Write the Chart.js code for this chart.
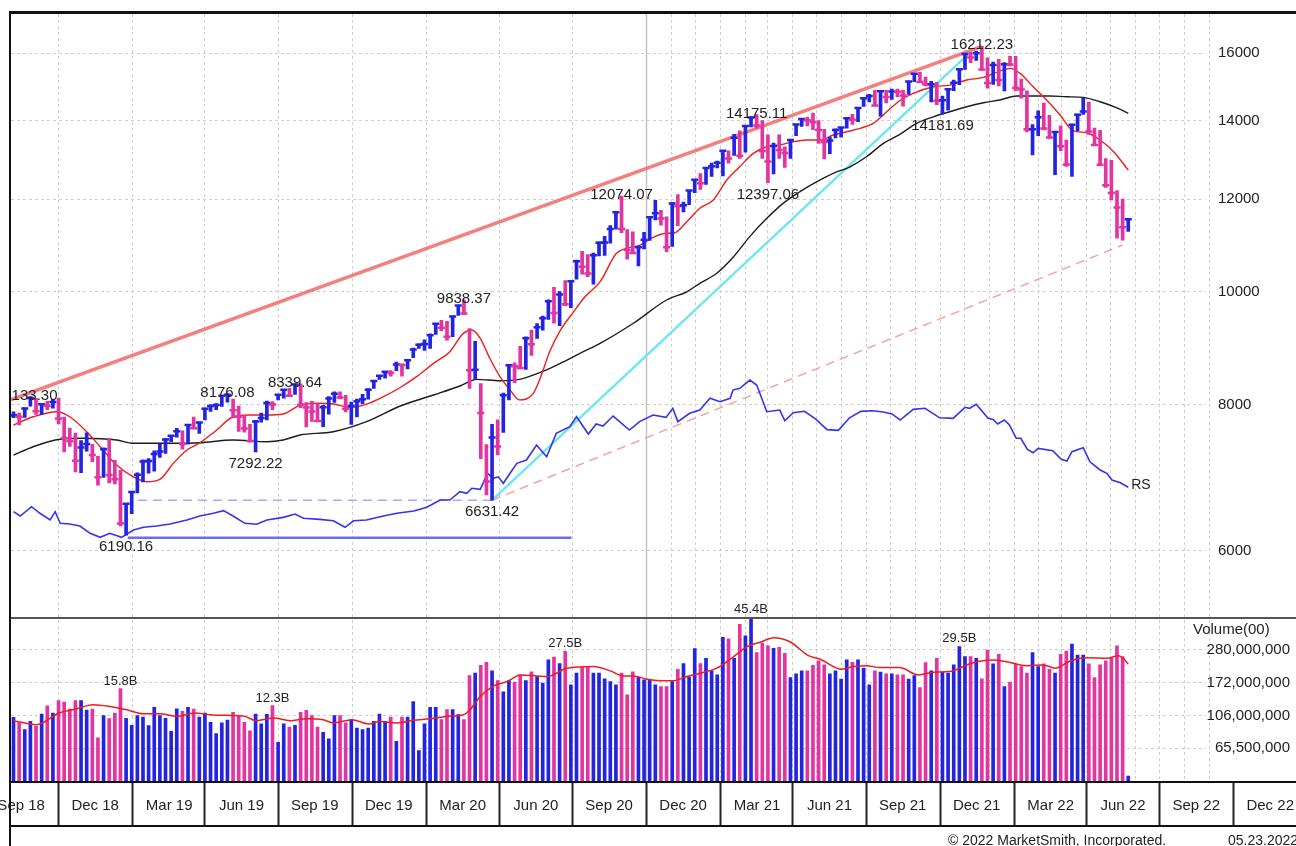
<!DOCTYPE html>
<html>
<head>
<meta charset="utf-8">
<title>Nasdaq weekly</title>
<script src="https://cdn.jsdelivr.net/npm/chart.js@4.4.1/dist/chart.umd.min.js"></script>
<style>
  html, body { margin: 0; padding: 0; background: #fff; }
  #frame { position: relative; width: 1296px; height: 846px; overflow: hidden; }
  #frame canvas { position: absolute; left: 0; top: 0; }
  .rule { position: absolute; background: #111; }
  .txt { position: absolute; font: 15px "Liberation Sans", Arial, sans-serif; color: #222; white-space: nowrap; }
  .small { font-size: 14px; }
</style>
</head>
<body>
<div id="frame">
  <canvas id="chart" width="1296" height="846"></canvas>
  <div class="rule" style="left:9px; top:11px; width:2px; height:835px;"></div>
  <div class="rule" style="left:9px; top:11px; width:1287px; height:3px;"></div>
  <div class="rule" style="left:11px; top:617px; width:1285px; height:2px; background:#555;"></div>
  <div class="rule" style="left:11px; top:781px; width:1285px; height:2px;"></div>
  <div class="rule" style="left:11px; top:825px; width:1285px; height:2px;"></div>
  <div class="txt" style="left:1193px; top:620px;">Volume(00)</div>
  <div class="txt small" style="left:948px; top:832px;">© 2022 MarketSmith, Incorporated.</div>
  <div class="txt small" style="left:1228px; top:832px;">05.23.2022</div>
</div>
<script>
// weekly bars, first bar = week of 2018-08-06
const firstWeek = '2018-08-06';
const weekOf = d => (Date.parse(d) - Date.parse(firstWeek)) / 6048e5;

const highs = [
  7891.8, 7873, 7954, 8133.30, 8104, 8027, 8057, 8087, 8107, 7810,
  7643, 7569, 7459, 7572, 7404, 7231, 7351, 7486, 7174, 7035,
  6586, 6745, 7000, 7181, 7198, 7310, 7407, 7488, 7534, 7640,
  7604, 7690, 7812, 7733, 7951, 8003, 8020, 8146, 8176.08, 8094,
  7982, 7843, 7700, 7763, 7872, 8063, 8054, 8170, 8246, 8266,
  8339.64, 8340, 8039, 8057, 8020, 7993, 8131, 8210, 8208, 8151,
  8046, 8092, 8170, 8262, 8390, 8482, 8541, 8560, 8705, 8676,
  8746, 8950, 9022, 9093, 9204, 9390, 9452, 9431, 9535, 9734,
  9838.37, 9300, 9070, 8345, 7400, 7700, 7770, 8190, 8660, 8690,
  8980, 9150, 9270, 9390, 9530, 9840, 10086, 10000, 10221, 10210,
  10640, 10825, 10760, 10787, 11030, 11150, 11390, 11712, 12074.07, 11300,
  11250, 10940, 11240, 11600, 11970, 11740, 11590, 11920, 12110, 11930,
  12210, 12470, 12620, 12770, 12880, 12930, 13210, 13200, 13630, 13730,
  13880, 14110, 14175.11, 14010, 13620, 13400, 13620, 13300, 13500, 13910,
  14070, 14100, 14212, 14010, 13770, 13560, 13780, 13820, 14100, 14180,
  14370, 14640, 14750, 14870, 14850, 14870, 14900, 14900, 14870, 15130,
  15370, 15400, 15260, 15130, 15100, 14700, 14900, 15170, 15510, 15980,
  16020, 16060, 16212.23, 15850, 15720, 15800, 15700, 15900, 15900, 15200,
  14850, 13900, 14280, 14500, 14150, 13700, 13860, 13480, 13900, 14190,
  14650, 14530, 13800, 13740, 13000, 12950, 12200, 12000, 11540
];
const lows = [
  7803, 7691.9, 7807, 7979, 7852, 7850, 7927, 7948, 7705, 7292,
  7373, 7010, 7002, 7302, 7156, 6830, 6937, 6862, 6849, 6304,
  6190.16, 6457, 6726, 6876, 6995, 7022, 7215, 7272, 7442, 7508,
  7333, 7407, 7636, 7562, 7768, 7899, 7926, 7976, 8045, 7800,
  7595, 7582, 7435, 7292.22, 7734, 7767, 7925, 8079, 8106, 8142,
  8168, 7959, 7662, 7744, 7747, 7666, 7856, 8038, 8097, 7890,
  7700, 7815, 8021, 8092, 8265, 8413, 8432, 8466, 8558, 8467,
  8590, 8781, 8941, 8907, 8943, 9190, 9260, 9088, 9150, 9543,
  9562, 8264, 8407, 7198, 6700, 6631.42, 7250, 7580, 8080, 8360,
  8590, 8580, 8820, 9120, 9270, 9470, 9400, 9350, 9730, 9690,
  10250, 10350, 10300, 10150, 10730, 10740, 11000, 11310, 11230, 10660,
  10780, 10520, 10880, 11060, 11520, 11400, 10820, 10930, 11390, 11700,
  11870, 12150, 12230, 12350, 12550, 12760, 12560, 12880, 13080, 13000,
  13160, 13830, 13800, 13000, 12397.06, 12610, 13000, 12770, 13000, 13600,
  13850, 13860, 13760, 13390, 12990, 13120, 13540, 13560, 13800, 13900,
  13980, 14400, 14530, 14420, 14130, 14500, 14600, 14680, 14410, 14750,
  15120, 15100, 15000, 14530, 14450, 14181.69, 14300, 14860, 15030, 15490,
  15700, 15770, 15460, 14930, 15040, 15000, 14850, 15600, 14860, 14640,
  13700, 13090, 13600, 13750, 13530, 12590, 13200, 12800, 12550, 13730,
  14180, 13630, 13330, 12830, 12280, 11980, 11110, 11070, 11260
];
const closes = [
  7839.11, 7816.33, 7945.98, 8109.54, 7902.54, 8010.04, 7986.96, 8046.35, 7788.45, 7496.89,
  7449.03, 7167.21, 7356.99, 7406.90, 7247.87, 6938.98, 7330.54, 6969.25, 6910.67, 6332.99,
  6584.52, 6738.86, 6971.48, 7157.23, 7164.86, 7263.87, 7298.20, 7472.41, 7527.54, 7595.35,
  7408.14, 7688.53, 7642.67, 7729.32, 7938.69, 7984.16, 7998.06, 8146.40, 8164.00, 7916.94,
  7816.28, 7637.01, 7453.15, 7742.10, 7796.66, 8031.71, 8006.24, 8161.79, 8244.14, 8146.49,
  8330.21, 8004.07, 7959.14, 7895.99, 7751.77, 7962.88, 8103.07, 8176.71, 8117.67, 7939.63,
  7982.47, 8057.04, 8089.54, 8243.12, 8386.40, 8475.31, 8540.83, 8519.88, 8665.47, 8656.53,
  8734.88, 8924.96, 9006.62, 9020.77, 9178.86, 9388.94, 9314.91, 9150.94, 9520.51, 9731.18,
  9576.59, 8567.37, 8575.62, 7874.88, 6879.52, 7502.38, 7373.08, 8153.58, 8650.14, 8634.52,
  8604.95, 9121.32, 9014.56, 9324.59, 9489.87, 9814.08, 9588.81, 9946.12, 9757.22, 10207.63,
  10617.44, 10503.19, 10363.18, 10745.27, 11010.98, 11019.30, 11311.80, 11695.63, 11313.13, 10853.55,
  10793.28, 10913.56, 11075.02, 11579.94, 11671.56, 11548.28, 10911.59, 11895.23, 11829.29, 11854.97,
  12205.85, 12464.23, 12377.87, 12755.64, 12804.73, 12888.28, 13201.98, 12998.50, 13543.06, 13070.70,
  13856.30, 14095.47, 13874.46, 13192.35, 12920.15, 13319.86, 13215.24, 13138.73, 13480.11, 13900.19,
  14052.34, 14016.81, 13962.68, 13752.24, 13429.98, 13470.99, 13748.74, 13814.49, 14069.42, 14030.38,
  14360.39, 14639.33, 14701.92, 14427.24, 14836.99, 14672.68, 14835.76, 14822.90, 14714.66, 15129.50,
  15363.52, 15115.49, 15043.97, 15047.70, 14566.70, 14579.54, 14897.34, 15090.20, 15498.39, 15971.59,
  15860.96, 15993.71, 15491.66, 15085.47, 15630.60, 15169.68, 15653.37, 15644.97, 14935.90, 14893.75,
  13768.92, 13770.57, 14098.01, 13791.15, 13548.07, 13694.62, 13313.44, 12843.81, 13893.84, 14169.30,
  14261.50, 13711.00, 13351.08, 12839.29, 12334.64, 12144.66, 11805.00, 11354.62, 11535.27
];
// weekly volume, hundreds of shares, in millions
const volumes = [
  103.2, 95.0, 86.0, 97.2, 90.3, 108.5, 122.6, 110.1, 132.5, 129.5,
  116.8, 132.5, 132.5, 115.1, 116.8, 76.2, 105.8, 101.2, 110.1, 158,
  101.6, 91.7, 105.8, 103.8, 91.3, 119.6, 105.8, 101.6, 83.9, 117.3,
  112.7, 119.6, 116.8, 103.8, 110.1, 95.8, 81.1, 95.0, 99.3, 111.1,
  106.3, 95.8, 84.4, 108.5, 93.6, 107.8, 123, 71.3, 93.6, 89.5,
  91.7, 111.1, 114.4, 105.8, 89.5, 82.7, 75.0, 105.8, 105.8, 95.0,
  99.7, 88.2, 86.0, 88.2, 97.2, 108.5, 97.2, 103.8, 72.4, 103.8,
  103.8, 130.6, 63.1, 93.6, 119.6, 119.6, 99.7, 115.6, 115.6, 107.4,
  99.7, 191.7, 198.6, 223.4, 233.5, 205.4, 178.1, 150.7, 178.1, 173.9,
  193.6, 178.1, 202.4, 188.9, 171.3, 241.6, 252.5, 228.8, 275, 167.1,
  198.6, 215.7, 215.7, 198.6, 198.6, 182.6, 175.4, 167.1, 198.6, 144.2,
  202.4, 187.2, 179.9, 179.9, 167.1, 163.0, 163.0, 175.4, 210.6, 228.8,
  187.2, 285.4, 228.8, 247.7, 205.4, 193.6, 337.7, 330.8, 247.7, 409.1,
  345.7, 454, 269.1, 309.1, 298.3, 287.1, 291.4, 266.7, 186.1, 196.5,
  205.4, 205.4, 223.4, 238.1, 224.4, 196.5, 205.4, 181.7, 241.6, 233.5,
  241.6, 213.8, 167.1, 205.4, 201.5, 196.5, 196.5, 193.6, 193.6, 181.7,
  191.7, 160.6, 232.2, 205.4, 247.7, 201.5, 198.6, 224.4, 295, 253.7,
  253.7, 247.7, 182.6, 280, 227.8, 262.8, 163.0, 173.9, 226.7, 218.9,
  198.6, 269.1, 218.9, 227.8, 210.6, 198.6, 262.8, 275.9, 305.9, 260.1,
  260.1, 227.8, 186.1, 224.4, 238.1, 247.7, 298.3, 253.7, 43.2
];

// [week, value]
const ma10 = [
  [0, 7690], [3.5, 7816], [7.7, 7894], [10, 7816], [13, 7589], [15.4, 7368], [18.3, 7107], [21.3, 6944],
  [23.7, 6877], [26, 6909], [28.4, 7131], [30.8, 7320], [33.1, 7426], [36.1, 7614], [39, 7816], [42, 7843],
  [45, 7843], [47.9, 7858], [50.9, 7998], [53.9, 8026], [56.8, 8014], [59.8, 7963], [62.7, 8014], [65.7, 8131],
  [68.7, 8280], [71.6, 8458], [74.6, 8683], [77.5, 8885], [79.9, 9211], [81.4, 9272], [82.9, 9122], [84.6, 8770],
  [86.4, 8458], [88.2, 8238], [89.9, 8080], [92.3, 8180], [93.5, 8420], [95.3, 8900], [97.1, 9260], [99.4, 9600],
  [101.5, 9900], [104.2, 10200], [107.1, 10784], [108.9, 10891], [111.3, 10962], [113.6, 11129], [116, 11218],
  [117.2, 11218], [119.6, 11477], [121.9, 11784], [124.3, 11978], [126.7, 12459], [129, 12789], [131.4, 13131],
  [133.8, 13303], [136.1, 13349], [138.5, 13435], [140.9, 13480], [143.3, 13480], [145.6, 13614], [148, 13703],
  [150.4, 13795], [152.7, 13931], [155.1, 14253], [157.5, 14580], [159.8, 14779], [163.4, 14973], [166.3, 15022],
  [169.3, 15171], [172.3, 15251], [175.2, 15442], [177, 15525], [178.8, 15373], [181.1, 14973], [183.5, 14586],
  [185.9, 14160], [188.2, 13730], [190.6, 13675], [193, 13480], [195.4, 13173], [198, 12707]
];
const ma40 = [
  [0, 7248], [3.5, 7368], [8.3, 7477], [12.4, 7491], [18.3, 7466], [21.3, 7418], [28.4, 7418], [33.1, 7426],
  [39, 7466], [45, 7441], [47.9, 7466], [50.9, 7540], [56.8, 7589], [62.7, 7741], [68.7, 7983], [74.6, 8158],
  [79.3, 8304], [82.3, 8414], [86.4, 8391], [89.9, 8414], [92.3, 8485], [95.3, 8598], [98.3, 8740], [101.2, 8885],
  [104.2, 9032], [110.1, 9396], [116, 9837], [119.6, 9998], [121.9, 10165], [124.9, 10368], [127.9, 10712],
  [130.8, 11150], [133.8, 11554], [136.7, 11900], [139.7, 12176], [142.7, 12418], [145.6, 12624], [148.6, 12789],
  [151.5, 13043], [154.5, 13392], [157.5, 13640], [160.4, 13931], [163.4, 14112], [166.3, 14253], [169.3, 14394],
  [172.3, 14507], [175.2, 14586], [178.2, 14701], [181.1, 14701], [184.1, 14701], [187.1, 14680], [190, 14663],
  [193, 14536], [196.2, 14349], [198, 14208]
];
const rsLine = [
  [0, 6483], [1.2, 6428], [3.2, 6547], [4.7, 6463], [6.5, 6378], [7.4, 6483], [8.3, 6336], [10, 6328],
  [11.8, 6303], [13.6, 6213], [15.4, 6164], [17.1, 6213], [19.2, 6164], [21.3, 6253], [23.1, 6287], [25.4, 6303],
  [27.8, 6328], [30.8, 6378], [33.1, 6428], [35.5, 6463], [37.3, 6496], [39, 6428], [41.1, 6336], [43.2, 6324],
  [45, 6378], [47.9, 6411], [50, 6453], [51.5, 6399], [54.4, 6386], [56.8, 6368], [58.9, 6287], [60.4, 6368],
  [62.7, 6378], [65.7, 6428], [68.1, 6463], [71.1, 6491], [73.4, 6539], [75.8, 6634], [77.5, 6634], [79.3, 6743],
  [80.5, 6722], [81.4, 6789], [82.9, 6775], [84.2, 6992], [85.2, 6923], [86.1, 6944], [87, 6856], [88.2, 6992],
  [89.4, 7131], [91.1, 7178], [92.9, 7392], [94.7, 7224], [96.4, 7565], [98.8, 7664], [100, 7816], [102.1, 7554],
  [103.5, 7706], [104.7, 7675], [106.5, 7827], [109.4, 7614], [111.2, 7741], [113.6, 7843], [115.9, 7806],
  [117.1, 7947], [118, 7741], [120.1, 7869], [121.9, 7920], [123.7, 8106], [125.5, 8051], [127.3, 8106],
  [127.8, 8238], [129, 8266], [130.8, 8402], [132, 8320], [133.8, 7894], [136.1, 7920], [137, 7755], [138.5, 7878],
  [140.5, 7900], [142.5, 7780], [144.5, 7620], [146.5, 7610], [148.5, 7800], [150.5, 7900], [152.5, 7910],
  [154.5, 7890], [156, 7860], [157.5, 7766], [159.8, 7931], [161.9, 7947], [164.5, 7800], [166.9, 7791],
  [169, 7963], [169.8, 7947], [171, 8010], [173.1, 7791], [174, 7775], [174.8, 7706], [176, 7766], [176.9, 7690],
  [178.1, 7491], [178.9, 7491], [180.1, 7330], [181.1, 7281], [182, 7344], [184.6, 7310], [186.1, 7187],
  [187.1, 7163], [188, 7296], [190, 7353], [191.2, 7153], [193, 7038], [194.2, 6992], [195.1, 6901],
  [196.6, 6864], [198, 6802]
];
const volMa = [
  [0, 98.3], [4.1, 92.6], [8.1, 110.1], [11.1, 116.8], [14.1, 124.4], [17.1, 121.3], [20.1, 115.6], [23.1, 108.9],
  [26, 108.9], [29, 104.7], [32.1, 110.1], [35, 107.4], [38, 106.3], [41.1, 104.7], [43.1, 98.3], [46.2, 102.3],
  [49.1, 98.3], [52.1, 101.2], [55, 99.7], [56.8, 95.0], [60.1, 99.7], [63.1, 93.6], [65.1, 97.2], [68.1, 95.0],
  [71, 98.7], [74, 101.2], [76.9, 104.7], [79.9, 107.4], [81.1, 115.6], [82.9, 140.6], [85.3, 164.6], [87.7, 175.4],
  [90, 193.6], [93, 190.8], [94.8, 188.9], [98.3, 213.8], [103, 218.9], [106, 205.4], [108.3, 190.8], [110.1, 190.8],
  [112.5, 181.7], [115.5, 177.2], [117.2, 177.2], [119.6, 188.9], [122, 198.6], [124.9, 213.8], [127.3, 244.1],
  [130.3, 294.0], [132.6, 313.7], [135, 335.7], [137.9, 316.5], [141.2, 257.4], [143.2, 245.2], [147.1, 210.6],
  [149.2, 218.9], [151.5, 222.1], [153.9, 215.7], [157.4, 215.7], [160.7, 193.6], [163.4, 201.5], [166.3, 203.3],
  [169.3, 224.4], [171.1, 235.6], [174, 241.6], [176.4, 235.6], [180, 222.1], [182.9, 224.4], [185, 213.8],
  [187.7, 238.1], [190.6, 249.9], [194.2, 247.7], [196.3, 257.4], [197.1, 247.7], [198, 226.7]
];

// trend lines drawn on the chart, [week, price]
const channelTop = [[-0.6, 8078], [172, 16212.23]];
const riseLine = [[85, 6631.42], [169.5, 15950]];
const supportLine = [[85, 6631.42], [197, 10962]];
const lowBase = [[20.3, 6160], [99.1, 6160]];
const crashBase = [[22.1, 6631.42], [85, 6631.42]];

const priceTicks = [6000, 8000, 10000, 12000, 14000, 16000];
const volumeTicks = [65.5, 106, 172, 280];
const volumeTickLabels = ['65,500,000', '106,000,000', '172,000,000', '280,000,000'];
const quarterStarts = ['2018-07-01', '2018-10-01', '2019-01-01', '2019-04-01', '2019-07-01', '2019-10-01',
  '2020-01-01', '2020-04-01', '2020-07-01', '2020-10-01', '2021-01-01', '2021-04-01', '2021-07-01',
  '2021-10-01', '2022-01-01', '2022-04-01', '2022-07-01', '2022-10-01'];
const quarterLabels = ['Sep 18', 'Dec 18', 'Mar 19', 'Jun 19', 'Sep 19', 'Dec 19', 'Mar 20', 'Jun 20', 'Sep 20',
  'Dec 20', 'Mar 21', 'Jun 21', 'Sep 21', 'Dec 21', 'Mar 22', 'Jun 22', 'Sep 22', 'Dec 22'];
const monthLines = ['2020-11-01', '2020-12-01', '2021-02-01', '2021-03-01', '2021-05-01', '2021-06-01',
  '2021-08-01', '2021-09-01', '2021-11-01', '2021-12-01', '2022-02-01', '2022-03-01', '2022-05-01',
  '2022-06-01', '2022-08-01', '2022-09-01'];
const solidLineDate = '2020-10-01';

const peakWeeks = [3, 38, 50, 80, 108, 132, 172];
const troughWeeks = [20, 43, 85, 134, 165];
const volumeNoteWeeks = [19, 46, 98, 131, 168];

const weekRange = [-0.444, 211.81];
const priceRange = [5253, 17279];
const volumeRange = [39.6, 446.5];

const UP = '#2323e2';
const DOWN = '#e2359f';
const FONT = '"Liberation Sans", Arial, sans-serif';

Chart.defaults.font.family = FONT;
Chart.defaults.font.size = 15;
Chart.defaults.color = '#222';

const barColors = closes.map((c, i) => (i === 0 || c >= closes[i - 1]) ? UP : DOWN);
const pts = arr => arr.map(([x, y]) => ({ x, y }));

const xTicks = quarterStarts.map((d, i) => ({ value: weekOf(d), label: quarterLabels[i], quarter: true }))
  .concat(monthLines.map(d => ({ value: weekOf(d), label: '', quarter: false })))
  .sort((a, b) => a.value - b.value);

const notesPlugin = {
  id: 'notes',
  beforeDatasetsDraw(chart) {
    const { ctx, chartArea, scales: { x } } = chart;
    const px = Math.round(x.getPixelForValue(weekOf(solidLineDate))) + 0.5;
    ctx.save();
    ctx.strokeStyle = '#c4c4c4';
    ctx.lineWidth = 1.5;
    ctx.beginPath();
    ctx.moveTo(px, chartArea.top);
    ctx.lineTo(px, chartArea.bottom);
    ctx.stroke();
    ctx.restore();
  },
  afterDatasetsDraw(chart) {
    const { ctx, chartArea, scales: { x, y, y2 } } = chart;
    ctx.save();
    ctx.beginPath();
    ctx.rect(chartArea.left, chartArea.top, chartArea.right - chartArea.left, chartArea.bottom - chartArea.top);
    ctx.clip();
    ctx.fillStyle = '#222';
    ctx.textAlign = 'center';
    ctx.textBaseline = 'alphabetic';
    ctx.font = '15px ' + FONT;
    peakWeeks.forEach(w => {
      ctx.fillText(highs[w].toFixed(2), x.getPixelForValue(w), y.getPixelForValue(highs[w]) + 3);
    });
    troughWeeks.forEach(w => {
      ctx.fillText(lows[w].toFixed(2), x.getPixelForValue(w), y.getPixelForValue(lows[w]) + 16);
    });
    ctx.font = '13px ' + FONT;
    volumeNoteWeeks.forEach(w => {
      ctx.fillText((volumes[w] / 10).toFixed(1) + 'B', x.getPixelForValue(w), y2.getPixelForValue(volumes[w]) - 4);
    });
    const last = rsLine[rsLine.length - 1];
    ctx.textAlign = 'left';
    ctx.textBaseline = 'middle';
    ctx.font = '14px ' + FONT;
    ctx.fillText('RS', x.getPixelForValue(last[0]) + 3, y.getPixelForValue(last[1]) - 2);
    ctx.restore();
  }
};

const gridColor = '#cfcfcf';
const lineSet = (data, color, width, extra) => Object.assign({
  type: 'line', data: pts(data), yAxisID: 'y', borderColor: color, borderWidth: width,
  pointRadius: 0, fill: false, order: 4
}, extra || {});

new Chart(document.getElementById('chart'), {
  type: 'bar',
  data: {
    datasets: [
      {
        type: 'line', label: 'close', yAxisID: 'y', showLine: false, order: 0,
        data: closes.map((c, i) => ({ x: i, y: c })),
        pointStyle: 'line', pointRadius: 3.5, pointBorderWidth: 2.5,
        pointBorderColor: barColors, pointBackgroundColor: barColors
      },
      {
        type: 'bar', label: 'range', yAxisID: 'y', order: 1, grouped: false,
        data: highs.map((h, i) => ({ x: i, y: [lows[i], h] })),
        backgroundColor: barColors, barThickness: 3, borderWidth: 0
      },
      lineSet(rsLine, '#3434ea', 1.6, { label: 'RS', order: 2 }),
      lineSet(ma10, '#f01c1c', 1.4, { label: '10 week', order: 3, cubicInterpolationMode: 'monotone' }),
      lineSet(ma40, '#1c1c1c', 1.4, { label: '40 week', order: 3, cubicInterpolationMode: 'monotone' }),
      lineSet(channelTop, 'rgba(244,112,112,0.9)', 3.5, { label: 'channel' }),
      lineSet(riseLine, '#72e6ee', 2.5, { label: 'rise' }),
      lineSet(supportLine, '#f6a2a2', 1.5, { label: 'support', borderDash: [9, 6] }),
      lineSet(lowBase, '#6c6cf0', 2.5, { label: 'low base' }),
      lineSet(crashBase, '#a8a8f4', 1.5, { label: 'crash base', borderDash: [9, 6] }),
      {
        type: 'bar', label: 'volume', yAxisID: 'y2', order: 1, grouped: false,
        data: volumes.map((v, i) => ({ x: i, y: v })),
        backgroundColor: barColors, barThickness: 3, borderWidth: 0
      },
      {
        type: 'line', label: 'volume avg', yAxisID: 'y2', order: 0,
        data: pts(volMa), borderColor: '#f01c1c', borderWidth: 1.5, pointRadius: 0,
        cubicInterpolationMode: 'monotone'
      }
    ]
  },
  options: {
    responsive: false,
    animation: false,
    devicePixelRatio: 1,
    events: [],
    layout: { padding: { left: 11, top: 14, right: 6, bottom: 20 } },
    plugins: { legend: { display: false }, tooltip: { enabled: false } },
    scales: {
      x: {
        type: 'linear', min: weekRange[0], max: weekRange[1], offset: false,
        afterBuildTicks: s => { s.ticks = xTicks.map(t => ({ value: t.value })); },
        afterFit: s => { s.height = 44; s.paddingLeft = 0; s.paddingRight = 0; },
        ticks: {
          autoSkip: false, maxRotation: 0, minRotation: 0, labelOffset: 36.6, padding: -29,
          color: '#222', font: { size: 15 },
          callback: (v, i) => xTicks[i] ? xTicks[i].label : ''
        },
        grid: {
          offset: false, lineWidth: 1, drawTicks: true, tickLength: 44, tickWidth: 2,
          color: c => (c.tick && c.tick.value > weekRange[1] + 0.7) ? 'rgba(0,0,0,0)' : gridColor,
          tickColor: c => (xTicks[c.index] && xTicks[c.index].quarter) ? '#222' : 'rgba(0,0,0,0)',
          tickBorderDash: [], borderDash: [3, 3]
        },
        border: { display: false, dash: [3, 3] }
      },
      y: {
        type: 'logarithmic', position: 'right', stack: 'panes', stackWeight: 604.5,
        min: priceRange[0], max: priceRange[1], beginAtZero: false,
        afterBuildTicks: s => { s.ticks = priceTicks.map(v => ({ value: v })); },
        afterFit: s => { s.width = 84; s.paddingTop = 0; s.paddingBottom = 0; },
        ticks: { autoSkip: false, padding: 12, crossAlign: 'near', color: '#222', callback: (v, i) => String(priceTicks[i]) },
        grid: { color: gridColor, lineWidth: 1, drawTicks: false, borderDash: [3, 3] },
        border: { display: false, dash: [3, 3] }
      },
      y2: {
        type: 'logarithmic', position: 'right', stack: 'panes', stackWeight: 163.5,
        min: volumeRange[0], max: volumeRange[1], beginAtZero: false,
        afterBuildTicks: s => { s.ticks = volumeTicks.map(v => ({ value: v })); },
        afterFit: s => { s.width = 84; s.paddingTop = 0; s.paddingBottom = 0; },
        ticks: { autoSkip: false, padding: 0.6, crossAlign: 'far', color: '#222', callback: (v, i) => volumeTickLabels[i] },
        grid: { color: gridColor, lineWidth: 1, drawTicks: false, borderDash: [3, 3] },
        border: { display: false, dash: [3, 3] }
      }
    }
  },
  plugins: [notesPlugin]
});
</script>
</body>
</html>
